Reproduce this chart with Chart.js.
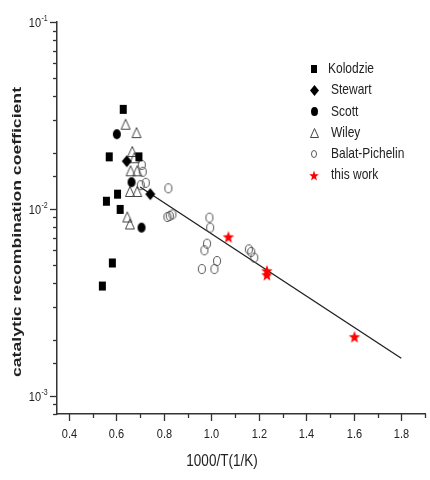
<!DOCTYPE html>
<html><head><meta charset="utf-8">
<script src="https://cdn.jsdelivr.net/npm/chart.js@4/dist/chart.umd.min.js"></script>
<style>html,body{margin:0;padding:0;background:#fff}</style>
</head><body>
<canvas id="c" width="430" height="480"></canvas>
<script>
// ---- data ----
const kolodzieX = [0.629, 0.570, 0.695, 0.605, 0.558, 0.616, 0.583, 0.541];
const kolodzieY = [0.0341, 0.0190, 0.0190, 0.0120, 0.0110, 0.00994, 0.00514, 0.00387];
const stewartX = [0.644, 0.743];
const stewartY = [0.0180, 0.0120];
const scottX = [0.602, 0.664, 0.706];
const scottY = [0.0251, 0.0139, 0.00794];
const wileyX = [0.639, 0.685, 0.667, 0.676, 0.660, 0.688, 0.657, 0.688, 0.646, 0.657];
const wileyY = [0.0284, 0.0256, 0.0203, 0.0188, 0.0160, 0.0160, 0.0124, 0.0124, 0.00906, 0.00831];
const balatX = [0.707, 0.711, 0.724, 0.703, 0.819, 0.815, 0.825, 0.836, 0.992, 0.995, 0.982, 0.971, 0.960, 1.024, 1.013, 1.158, 1.168, 1.181];
const balatY = [0.0172, 0.0158, 0.0138, 0.0134, 0.0129, 0.00906, 0.00918, 0.00935, 0.00898, 0.00794, 0.00652, 0.00601, 0.00477, 0.00527, 0.00477, 0.00608, 0.00589, 0.00549];
const thisWorkX = [1.072, 1.234, 1.234, 1.603];
const thisWorkY = [0.00708, 0.00466, 0.00444, 0.00207];
const fitX = [0.70, 1.80];
const fitY = [0.0131, 0.00159];
const seriesNames = ["Kolodzie", "Stewart", "Scott", "Wiley", "Balat-Pichelin", "this work"];
const xTitle = "1000/T(1/K)";
const yTitle = "catalytic recombination coefficient";

const pts = (xs, ys) => xs.map((x, i) => ({x, y: ys[i]}));

// ---- marker images ----
function marker(type, w, h) {
  const c = document.createElement('canvas');
  c.width = w + 2; c.height = h + 2;
  const g = c.getContext('2d');
  const cx = c.width / 2, cy = c.height / 2;
  g.beginPath();
  if (type === 'square') {
    g.rect(1, 1, w, h); g.fillStyle = '#000'; g.fill();
  } else if (type === 'diamond') {
    g.moveTo(cx, 1); g.lineTo(cx + w / 2, cy); g.lineTo(cx, cy + h / 2); g.lineTo(cx - w / 2, cy); g.closePath();
    g.fillStyle = '#000'; g.fill();
  } else if (type === 'circle') {
    g.ellipse(cx, cy, w / 2, h / 2, 0, 0, Math.PI * 2); g.fillStyle = '#000'; g.fill();
  } else if (type === 'ocircle') {
    g.ellipse(cx, cy, w / 2 - 0.5, h / 2 - 0.5, 0, 0, Math.PI * 2); g.strokeStyle = '#555'; g.lineWidth = 1; g.stroke();
  } else if (type === 'triangle') {
    g.moveTo(cx, 1.5); g.lineTo(cx + w / 2 - 0.5, h + 0.5); g.lineTo(cx - w / 2 + 0.5, h + 0.5); g.closePath();
    g.strokeStyle = '#444'; g.lineWidth = 1; g.stroke();
  } else if (type === 'star') {
    const rx = w / 2, ry = h / 2;
    for (let i = 0; i < 10; i++) {
      const a = -Math.PI / 2 + i * Math.PI / 5;
      const r = i % 2 === 0 ? 1 : 0.42;
      const px = cx + Math.cos(a) * rx * r, py = cy + 0.5 + Math.sin(a) * ry * r;
      i === 0 ? g.moveTo(px, py) : g.lineTo(px, py);
    }
    g.closePath(); g.fillStyle = '#f00'; g.fill();
  }
  return c;
}
const mk = {
  square: marker('square', 7, 9), diamond: marker('diamond', 10, 12), circle: marker('circle', 8, 10),
  triangle: marker('triangle', 10, 11), ocircle: marker('ocircle', 8, 10), star: marker('star', 12, 13)
};
const lg = [marker('square', 6, 8), marker('diamond', 9, 11), marker('circle', 7, 9),
            marker('triangle', 9, 10), marker('ocircle', 6, 8), marker('star', 10, 11)];

function txt(ctx, s, x, y, font, align, sy, color) {
  ctx.save(); ctx.translate(x, y); ctx.scale(1, sy);
  ctx.font = font; ctx.textAlign = align; ctx.textBaseline = 'middle';
  ctx.fillStyle = color || '#222'; ctx.fillText(s, 0, 0); ctx.restore();
}

const deco = {
  id: 'deco',
  afterDraw(chart) {
    const ctx = chart.ctx, xs = chart.scales.x, ys = chart.scales.y, a = chart.chartArea;
    ctx.save();
    ctx.strokeStyle = '#333'; ctx.lineWidth = 1.3;
    // x ticks
    xs.ticks.forEach(t => {
      const major = Math.round(t.value * 10) % 2 === 0;
      const px = Math.round(xs.getPixelForValue(t.value)) + 0.5;
      ctx.beginPath(); ctx.moveTo(px, a.bottom); ctx.lineTo(px, a.bottom + (major ? 7 : 4)); ctx.stroke();
      if (major) txt(ctx, t.value.toFixed(1), px, a.bottom + 20, '11px "Liberation Sans", Arial, sans-serif', 'center', 1.2);
    });
    // y ticks
    ys.ticks.forEach(t => {
      const lv = Math.log10(t.value);
      const major = Math.abs(lv - Math.round(lv)) < 1e-6;
      const py = Math.round(ys.getPixelForValue(t.value)) + 0.5;
      ctx.beginPath(); ctx.moveTo(a.left, py); ctx.lineTo(a.left - (major ? 7 : 4), py); ctx.stroke();
      if (major) {
        txt(ctx, '10', 41, py + 1, '11px "Liberation Sans", Arial, sans-serif', 'right', 1.2);
        txt(ctx, String(Math.round(lv)), 41.5, py - 4, '7px "Liberation Sans", Arial, sans-serif', 'left', 1.2);
      }
    });
    // axis titles
    txt(ctx, xTitle, 222, 462, '13.5px "Liberation Sans", Arial, sans-serif', 'center', 1.2);
    ctx.save();
    ctx.translate(18, 232); ctx.rotate(-Math.PI / 2);
    ctx.font = 'bold 12px "Liberation Sans", Arial, sans-serif';
    const w = ctx.measureText(yTitle).width;
    ctx.scale(290 / w, 1);
    ctx.textAlign = 'center'; ctx.textBaseline = 'middle'; ctx.fillStyle = '#222';
    ctx.fillText(yTitle, 0, 0);
    ctx.restore();
    // legend
    const rows = [69, 90, 111.5, 133, 154, 175];
    seriesNames.forEach((n, i) => {
      const m = lg[i];
      ctx.drawImage(m, Math.round(314 - m.width / 2), Math.round(rows[i] - m.height / 2));
      txt(ctx, n, i === 0 ? 328 : 331, rows[i] + 0.5, '12px "Liberation Sans", Arial, sans-serif', 'left', 1.2);
    });
    ctx.restore();
  }
};

new Chart(document.getElementById('c'), {
  type: 'scatter',
  data: {
    datasets: [
      {label: 'fit', data: pts(fitX, fitY), showLine: true, pointRadius: 0, borderColor: '#222', borderWidth: 1.4, order: 10},
      {label: seriesNames[0], data: pts(kolodzieX, kolodzieY), pointStyle: mk.square},
      {label: seriesNames[1], data: pts(stewartX, stewartY), pointStyle: mk.diamond},
      {label: seriesNames[2], data: pts(scottX, scottY), pointStyle: mk.circle},
      {label: seriesNames[3], data: pts(wileyX, wileyY), pointStyle: mk.triangle},
      {label: seriesNames[4], data: pts(balatX, balatY), pointStyle: mk.ocircle},
      {label: seriesNames[5], data: pts(thisWorkX, thisWorkY), pointStyle: mk.star}
    ]
  },
  options: {
    responsive: false, animation: false, events: [],
    layout: {padding: {top: 22, right: 1, left: 0, bottom: 0}},
    plugins: {legend: {display: false}, tooltip: {enabled: false}},
    scales: {
      x: {type: 'linear', min: 0.35, max: 1.9,
          ticks: {stepSize: 0.1, includeBounds: false, display: false},
          grid: {display: false}, border: {display: true, color: '#333', width: 1.5},
          afterFit(s) { s.height = 66; }},
      y: {type: 'logarithmic', min: 0.0008, max: 0.1,
          ticks: {display: false},
          grid: {display: false}, border: {display: true, color: '#333', width: 1.5},
          afterFit(s) { s.width = 57; }}
    }
  },
  plugins: [deco]
});
</script>
</body></html>
